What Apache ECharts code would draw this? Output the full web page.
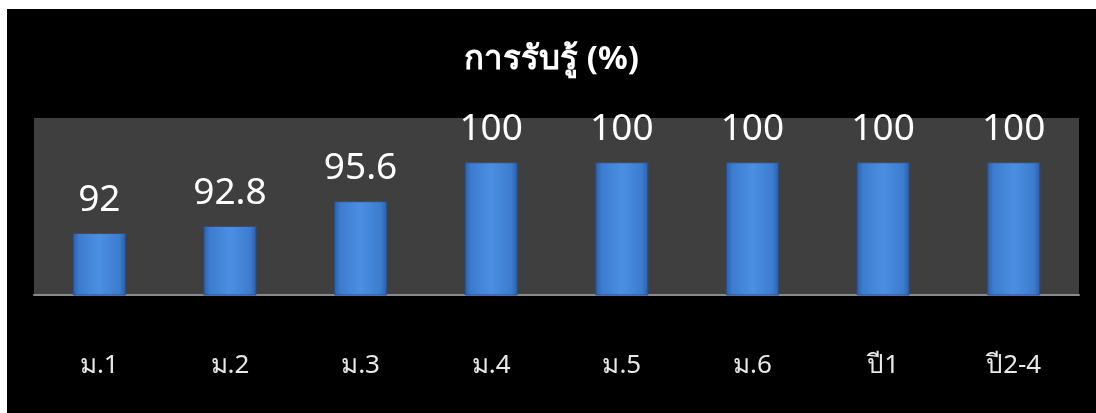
<!DOCTYPE html>
<html>
<head>
<meta charset="utf-8">
<script src="https://cdn.jsdelivr.net/npm/echarts@6/dist/echarts.min.js"></script>
<style>
  html, body { margin: 0; padding: 0; background: #fff; }
  #main { position: absolute; left: 7px; top: 9px; width: 1089px; height: 404px; }
</style>
</head>
<body>
<div id="main"></div>
<script>
// ข้อมูล
var categories = ['ม.1', 'ม.2', 'ม.3', 'ม.4', 'ม.5', 'ม.6', 'ปี1', 'ปี2-4'];
var values = [92, 92.8, 95.6, 100, 100, 100, 100, 100];
var titleText = 'การรับรู้ (%)';

var chart = echarts.init(document.getElementById('main'));

// ไล่สีแท่งให้ดูนูน
var barColor = new echarts.graphic.LinearGradient(0, 0, 1, 0, [
  { offset: 0, color: '#2c5fa8' },
  { offset: 0.12, color: '#3d7ccf' },
  { offset: 0.5, color: '#4b8fe2' },
  { offset: 0.88, color: '#3d7ccf' },
  { offset: 1, color: '#2c5fa8' }
]);

var option = {
  backgroundColor: '#000',
  textStyle: { fontFamily: 'Noto Sans, DejaVu Sans, sans-serif' },
  title: {
    text: titleText,
    left: 'center',
    top: 29,
    textStyle: { color: '#fff', fontSize: 33, fontWeight: 'bold' }
  },
  grid: {
    left: 27, right: 17, top: 109, bottom: 118,
    show: true, backgroundColor: '#3f3f3f', borderWidth: 0
  },
  xAxis: {
    type: 'category',
    data: categories,
    axisLine: { show: true, lineStyle: { color: '#8a8a8a', width: 2 } },
    axisTick: { show: false },
    axisLabel: { color: '#e8e8e8', fontSize: 26, margin: 58 }
  },
  yAxis: {
    type: 'value',
    min: 85,
    max: 105,
    show: false,
    splitLine: { show: false }
  },
  series: [{
    type: 'bar',
    data: values,
    barWidth: 53,
    itemStyle: {
      color: barColor,
      borderColor: '#24508f',
      borderWidth: 1
    },
    label: {
      show: true,
      position: 'top',
      distance: 14,
      color: '#fff',
      fontSize: 37
    }
  }]
};

chart.setOption(option);
</script>
</body>
</html>
